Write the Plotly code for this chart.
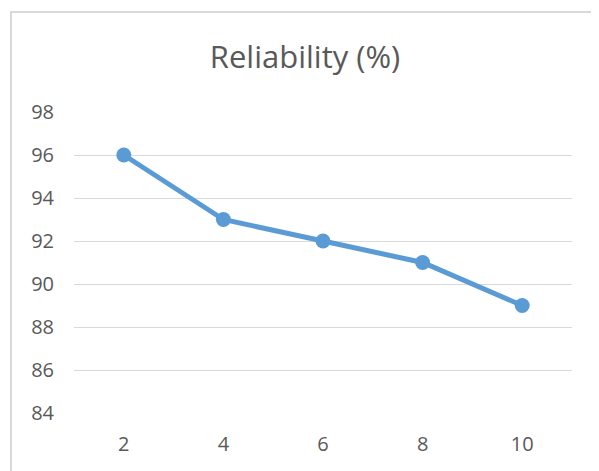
import plotly.graph_objects as go

categories = ["2", "4", "6", "8", "10"]
reliability = [96, 93, 92, 91, 89]
y_ticks = [84, 86, 88, 90, 92, 94, 96, 98]
title_text = "Reliability (%)"

# the page body has an 8px default margin, so the figure is drawn 8px smaller
OFF = 8
W, H = 599 - OFF, 471 - OFF
L, T = 74 - OFF, 112 - OFF
pw, ph = 498, 301
R, B = W - L - pw, H - T - ph

fig = go.Figure()
fig.add_trace(go.Scatter(
    x=categories, y=reliability, mode="lines+markers",
    line=dict(color="#5B9BD5", width=5),
    marker=dict(color="#5B9BD5", size=15),
    cliponaxis=False, hoverinfo="skip",
))

font = "'Open Sans', sans-serif"
fig.update_layout(
    width=W, height=H,
    margin=dict(l=L, r=R, t=T, b=B),
    paper_bgcolor="white", plot_bgcolor="white",
    showlegend=False,
    title=dict(text=title_text, x=(305 - OFF) / W, xref="container", xanchor="center",
               y=1 - (57 - OFF) / H, yref="container", yanchor="middle",
               font=dict(family=font, size=31, color="#595959")),
    xaxis=dict(type="category", range=[-0.5, 4.5], showgrid=False, zeroline=False,
               showline=False, ticks="",
               tickfont=dict(family=font, size=20, color="#595959"),
               ticklabelstandoff=17),
    yaxis=dict(range=[84, 98], tickvals=y_ticks, showgrid=True, gridcolor="#D9D9D9",
               gridwidth=1, zeroline=False, showline=False, ticks="",
               tickfont=dict(family=font, size=20, color="#595959"),
               ticklabelstandoff=19),
    shapes=[dict(type="rect", xref="paper", yref="paper",
                 x0=(11 - 74) / pw, x1=(W + 30 - L) / pw,
                 y0=-(B + 30) / ph, y1=1 + (112 - 12) / ph,
                 line=dict(color="#D9D9D9", width=2), fillcolor="rgba(0,0,0,0)",
                 layer="below")],
)

fig.write_html("out.html")
